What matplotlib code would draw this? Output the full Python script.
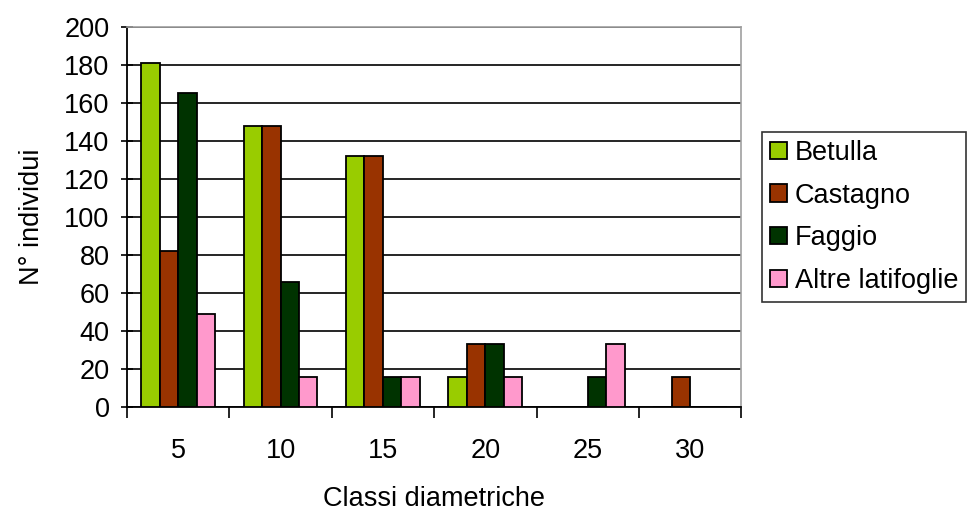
import matplotlib.pyplot as plt
import numpy as np

plt.rcParams['font.family'] = ['Liberation Sans', 'DejaVu Sans']

classes = ['5', '10', '15', '20', '25', '30']
series = ['Betulla', 'Castagno', 'Faggio', 'Altre latifoglie']
betulla = [181, 148, 132, 16, 0, 0]
castagno = [82, 148, 132, 33, 0, 16]
faggio = [165, 66, 16, 33, 16, 0]
altre = [49, 16, 16, 16, 33, 0]
colors = ['#99cc00', '#993300', '#003300', '#ff99cc']

fs = 19.5

fig = plt.figure(figsize=(9.69, 5.11), dpi=100)
ax = fig.add_axes([0.131, 0.2035, 0.634, 0.744])

x = np.arange(len(classes))
w = 0.18
for i, (vals, name) in enumerate(zip([betulla, castagno, faggio, altre], series)):
    ax.bar(x + (i - 1.5) * w, vals, w, color=colors[i], edgecolor='black',
           linewidth=1.3, label=name, zorder=3)

ax.set_xlim(-0.5, len(classes) - 0.5)
ax.set_ylim(0, 200)
ax.set_yticks(range(0, 201, 20))
ax.set_xticks(x)
ax.set_xticklabels(classes)
ax.set_xticks(np.arange(-0.5, len(classes), 1), minor=True)
ax.tick_params(axis='x', which='major', length=0, labelsize=fs, pad=22)
ax.tick_params(axis='x', which='minor', length=8, width=1.2, direction='out')
ax.tick_params(axis='y', length=9, width=1.2, direction='inout', labelsize=fs, pad=8)
ax.yaxis.grid(True, color='black', linewidth=1.2, zorder=0)

for s in ['left', 'bottom']:
    ax.spines[s].set_color('black')
    ax.spines[s].set_linewidth(1.3)
for s in ['top', 'right']:
    ax.spines[s].set_color('#a0a0a0')
    ax.spines[s].set_linewidth(1.2)

ax.set_xlabel('Classi diametriche', fontsize=fs, labelpad=16)
ax.set_ylabel('N° individui', fontsize=fs, labelpad=14)

leg = ax.legend(loc='center left', bbox_to_anchor=(1.034, 0.5), fontsize=fs,
                frameon=True, fancybox=False, edgecolor='black',
                handlelength=0.6, handleheight=0.6, handletextpad=0.3,
                labelspacing=0.62, borderpad=0.3, borderaxespad=0)
leg.get_frame().set_linewidth(1.2)

fig.savefig('out.png', dpi=100)
